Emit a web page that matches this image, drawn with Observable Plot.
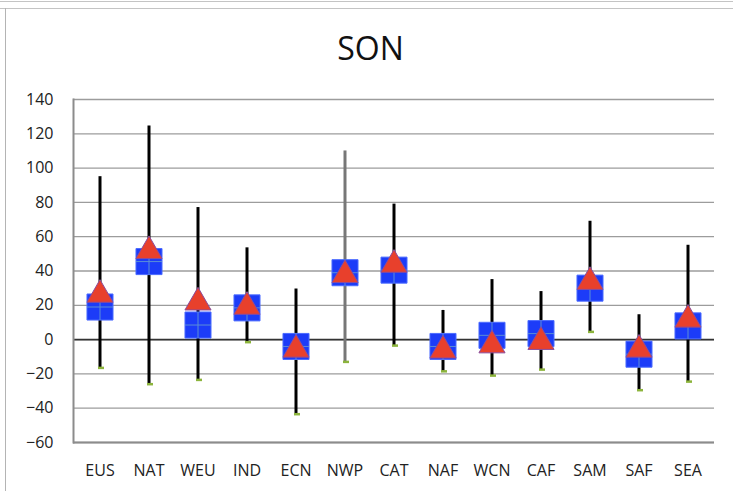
<!DOCTYPE html>
<html>
<head>
<meta charset="utf-8">
<script src="https://cdn.jsdelivr.net/npm/d3@7"></script>
<script src="https://cdn.jsdelivr.net/npm/@observablehq/plot@0.6"></script>
<style>
  html, body { margin: 0; padding: 0; background: #fff; }
  #wrap { position: relative; width: 733px; height: 491px; overflow: hidden; }
  #title { position: absolute; left: 4px; top: 32px; width: 733px; text-align: center;
           font-family: "Open Sans", sans-serif; font-size: 32px; line-height: 32px; color: #111; }
  .hl { position: absolute; left: 0; width: 733px; height: 1px; background: #c4c4c4; }
  #vl { position: absolute; left: 5px; top: 8px; width: 1px; height: 483px; background: #b4b4b4; }
  #chart { position: absolute; left: 0; top: 0; }
</style>
</head>
<body>
<div id="wrap">
  <div class="hl" style="top:1px"></div>
  <div class="hl" style="top:8px"></div>
  <div id="vl"></div>
  <div id="chart"></div>
  <div id="title">SON</div>
</div>
<script>
const cats   = ["EUS","NAT","WEU","IND","ECN","NWP","CAT","NAF","WCN","CAF","SAM","SAF","SEA"];
const maxV   = [95, 124.5, 77, 53.5, 29.5, 110, 79, 17, 35, 28, 69, 14.5, 55];
const minV   = [-16.5, -26, -23.5, -1.5, -43.5, -13, -3.5, -18.5, -21, -17.5, 4.5, -29.5, -24.5];
const boxV   = [19, 45.5, 8.5, 18.5, -4, 39, 40.5, -4, 2.5, 3.5, 30, -8.5, 8];
const triV   = [28.5, 54, 24, 21.5, -3.5, 40, 46, -4, -1, 1, 36, -3.5, 14];
const yTicks = [-60, -40, -20, 0, 20, 40, 60, 80, 100, 120, 140];

const data = cats.map((c, i) => ({cat: c, max: maxV[i], min: minV[i], box: boxV[i], tri: triV[i]}));

const crossSymbol = {
  draw(context, size) {
    const s = Math.sqrt(size) / 2;
    context.moveTo(-s, 0); context.lineTo(s, 0);
    context.moveTo(0, -s); context.lineTo(0, s);
  }
};

const chart = Plot.plot({
  width: 733,
  height: 491,
  marginTop: 99,
  marginBottom: 49,
  marginLeft: 73,
  marginRight: 19,
  style: {fontFamily: "Open Sans, sans-serif", fontSize: "16px", color: "#222", background: "transparent"},
  x: {domain: cats, padding: 0, label: null, tickSize: 0, tickPadding: 22},
  y: {domain: [-60, 140], ticks: yTicks, label: null, tickSize: 0, tickPadding: 20},
  marks: [
    Plot.ruleY(yTicks, {stroke: "#9c9c9c", strokeWidth: 1.3}),
    Plot.ruleY([-60], {stroke: "#8c8c8c", strokeWidth: 2}),
    Plot.ruleY([0], {stroke: "#333", strokeWidth: 1.8}),
    Plot.frame({anchor: "left", stroke: "#8c8c8c", strokeWidth: 2}),
    Plot.ruleX(data.filter(d => d.cat !== "NWP"), {x: "cat", y1: "min", y2: "max", stroke: "#000", strokeWidth: 3}),
    Plot.ruleX(data.filter(d => d.cat === "NWP"), {x: "cat", y1: "min", y2: "max", stroke: "#777", strokeWidth: 3}),
    Plot.tickY(data, {x: "cat", y: "min", stroke: "#8cb43c", strokeWidth: 2.5, insetLeft: 23, insetRight: 20}),
    Plot.dot(data, {x: "cat", y: "box", symbol: "square", r: 14.7, fill: "#1c3cf8", stroke: "#4c6cff", strokeWidth: 1}),
    Plot.dot(data, {x: "cat", y: "box", symbol: crossSymbol, r: 14.7, fill: "none", stroke: "#5b8ed6", strokeWidth: 1}),
    Plot.dot(data, {x: "cat", y: "tri", symbol: "triangle", r: 9.7, fill: "#e8402c", stroke: "#8a4c9c", strokeWidth: 1, dy: 4})
  ]
});
document.getElementById("chart").appendChild(chart);
</script>
</body>
</html>
